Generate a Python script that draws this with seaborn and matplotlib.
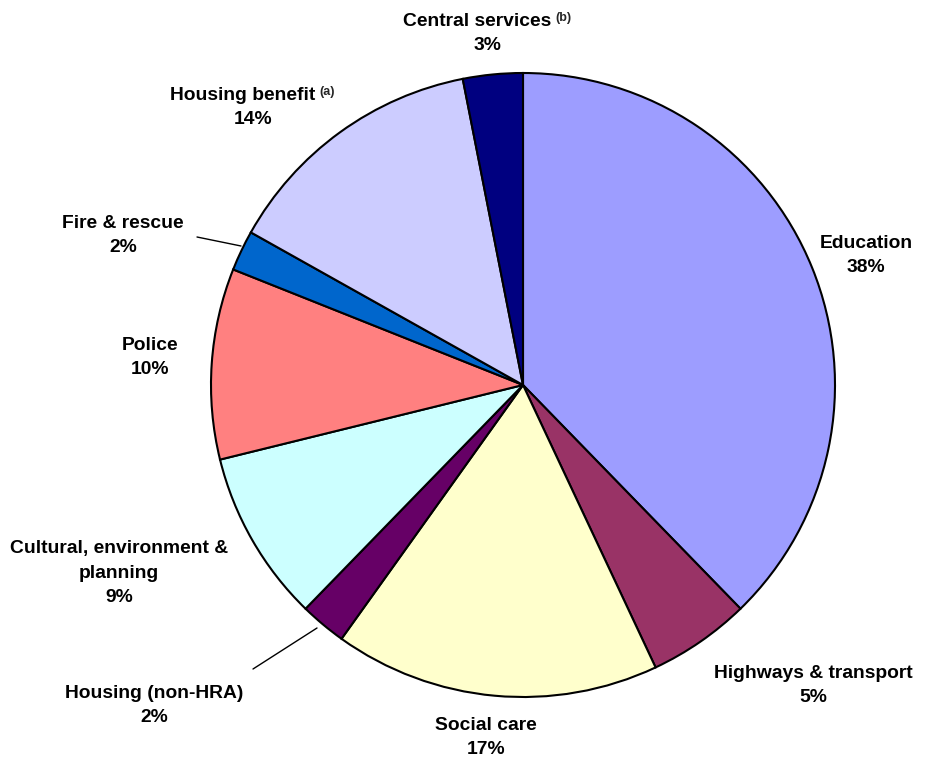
import matplotlib
matplotlib.use("Agg")
import matplotlib.pyplot as plt
import seaborn as sns

categories = ["Education", "Highways & transport", "Social care", "Housing (non-HRA)",
              "Cultural, environment &\nplanning", "Police", "Fire & rescue",
              "Housing benefit", "Central services"]
notes = ["", "", "", "", "", "", "", "(a)", "(b)"]
values = [37.8, 5.3, 16.9, 2.4, 8.9, 9.9, 2.1, 13.8, 3.1]
colors = ["#9D9DFF", "#993366", "#FFFFCC", "#660066", "#CCFFFF",
          "#FF8080", "#0066CC", "#CCCCFF", "#000080"]

# label layout in pixel space (x, y of first line), top-left origin
label_pos = [(866, 243), (813, 674), (486, 725), (154, 693), (119, 549),
             (150, 345), (123, 224), (253, 96), (487, 22)]
leaders = {6: ((197, 237), (241, 246)), 3: ((253, 669), (317, 628))}

sns.set_theme(style="white")
plt.rcParams["font.family"] = ["Liberation Sans", "DejaVu Sans"]

W, H = 925, 760
fig = plt.figure(figsize=(W / 100, H / 100), dpi=100)
ax = fig.add_axes([0, 0, 1, 1])
ax.set_xlim(0, W)
ax.set_ylim(0, H)
ax.axis("off")

ax.pie(values, colors=colors, startangle=90, counterclock=False,
       center=(523, H - 385), radius=312,
       wedgeprops=dict(edgecolor="black", linewidth=1.5))
ax.set_xlim(0, W)
ax.set_ylim(0, H)
ax.set_aspect("equal")

total = sum(values)
fs = 13.9
lh = 24
for i, name in enumerate(categories):
    x, y = label_pos[i]
    lines = name.split("\n")
    for j, line in enumerate(lines):
        # superscript note counts as part of the centred line
        shift = 10 if (j == 0 and notes[i]) else 0
        t = ax.text(x - shift, H - (y + j * lh), line, ha="center", va="center",
                    fontsize=fs, fontweight="bold", color="black")
        if j == 0 and notes[i]:
            ax.annotate(notes[i], xy=(1, 1), xycoords=t, xytext=(3, 1),
                        textcoords="offset points", ha="left", va="top",
                        fontsize=9, fontweight="bold")
    pct = f"{round(values[i] / total * 100)}%"
    ax.text(x, H - (y + len(lines) * lh), pct, ha="center", va="center",
            fontsize=fs, fontweight="bold", color="black")

for i, (p0, p1) in leaders.items():
    ax.plot([p0[0], p1[0]], [H - p0[1], H - p1[1]], color="black", linewidth=1)

fig.savefig("out.png", dpi=100)
